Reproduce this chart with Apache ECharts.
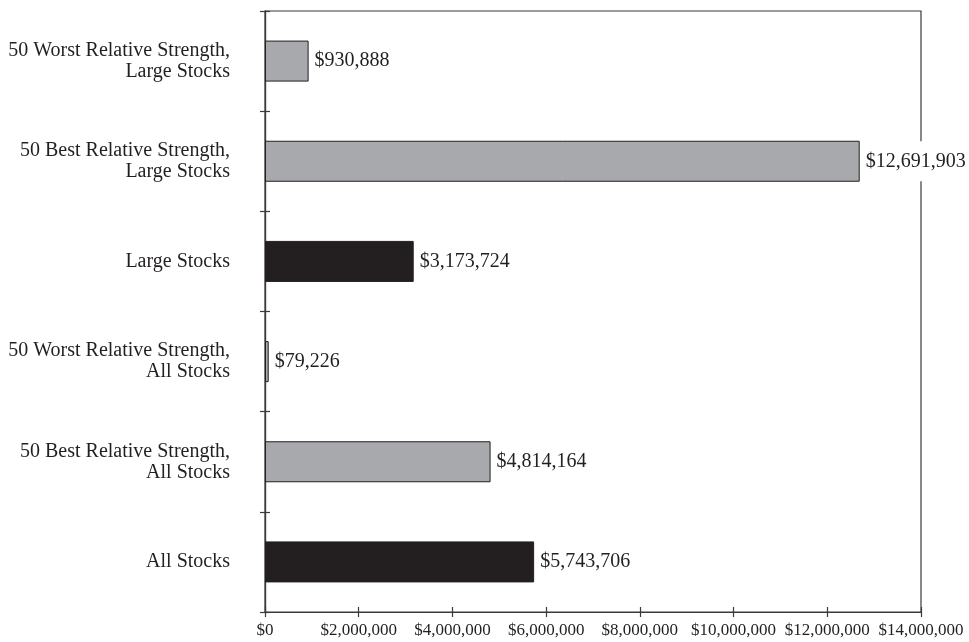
<!DOCTYPE html>
<html>
<head>
<meta charset="utf-8">
<script src="https://cdn.jsdelivr.net/npm/echarts@6/dist/echarts.min.js"></script>
<style>html,body{margin:0;padding:0;background:#fff;}#c{width:969px;height:642px;}</style>
</head>
<body>
<div id="c"></div>
<script>
var categories = [
  "50 Worst Relative Strength,\nLarge Stocks",
  "50 Best Relative Strength,\nLarge Stocks",
  "Large Stocks",
  "50 Worst Relative Strength,\nAll Stocks",
  "50 Best Relative Strength,\nAll Stocks",
  "All Stocks"
];
var values = [930888, 12691903, 3173724, 79226, 4814164, 5743706];
var isBenchmark = [false, false, true, false, false, true];
var xMin = 0, xMax = 14000000, xInterval = 2000000;

var GRAY = '#a7a9ac', DARK = '#231f20', LINE = '#3a3a3a';
var FONT = '"Liberation Serif", "Times New Roman", serif';

var chart = echarts.init(document.getElementById('c'), null, {renderer: 'canvas'});
var dataItems = values.map(function (v, i) {
  return {
    value: v,
    itemStyle: isBenchmark[i]
      ? {color: DARK, borderColor: DARK, borderWidth: 1}
      : {color: GRAY, borderColor: DARK, borderWidth: 1}
  };
});
function money(v) { return '$' + Number(v).toLocaleString('en-US'); }
var lineStyle = {color: LINE, width: 1.2};
var gridBox = {left: 265, right: 48, top: 11, bottom: 30};

chart.setOption({
  animation: false,
  backgroundColor: '#fff',
  grid: [
    Object.assign({show: true, borderColor: LINE, borderWidth: 1.2, backgroundColor: 'transparent'}, gridBox),
    Object.assign({show: false}, gridBox)
  ],
  xAxis: [{
    gridIndex: 0, type: 'value', min: xMin, max: xMax, interval: xInterval, position: 'bottom',
    axisLine: {show: true, lineStyle: lineStyle},
    axisTick: {show: true, length: 5, lineStyle: lineStyle},
    splitLine: {show: false},
    axisLabel: {margin: 10, color: DARK, fontFamily: FONT, fontSize: 17, formatter: money}
  }, {
    gridIndex: 1, type: 'value', min: xMin, max: xMax, interval: xInterval, position: 'bottom',
    axisLine: {show: true, onZero: false, lineStyle: lineStyle},
    axisTick: {show: true, inside: true, length: 5, lineStyle: lineStyle},
    splitLine: {show: false}, axisLabel: {show: false}
  }],
  yAxis: [{
    gridIndex: 0, type: 'category', data: categories, inverse: true, position: 'left',
    axisLine: {show: true, lineStyle: lineStyle},
    axisTick: {show: true, length: 5, lineStyle: lineStyle},
    axisLabel: {margin: 35, color: DARK, fontFamily: FONT, fontSize: 20, lineHeight: 21, align: 'right'}
  }, {
    gridIndex: 1, type: 'category', data: categories, inverse: true, position: 'left',
    axisLine: {show: true, onZero: false, lineStyle: lineStyle},
    axisTick: {show: true, inside: true, length: 5, lineStyle: lineStyle},
    axisLabel: {show: false}
  }],
  series: [{
    type: 'bar', xAxisIndex: 0, yAxisIndex: 0, data: dataItems, barWidth: 41, z: 3,
    label: {
      show: true, position: 'right', distance: 4, color: DARK, fontFamily: FONT, fontSize: 20,
      backgroundColor: '#fff', padding: [10, 2, 10, 2],
      formatter: function (p) { return money(p.value); }
    }
  }, {
    type: 'bar', xAxisIndex: 1, yAxisIndex: 1, data: [], silent: true
  }]
});
</script>
</body>
</html>
